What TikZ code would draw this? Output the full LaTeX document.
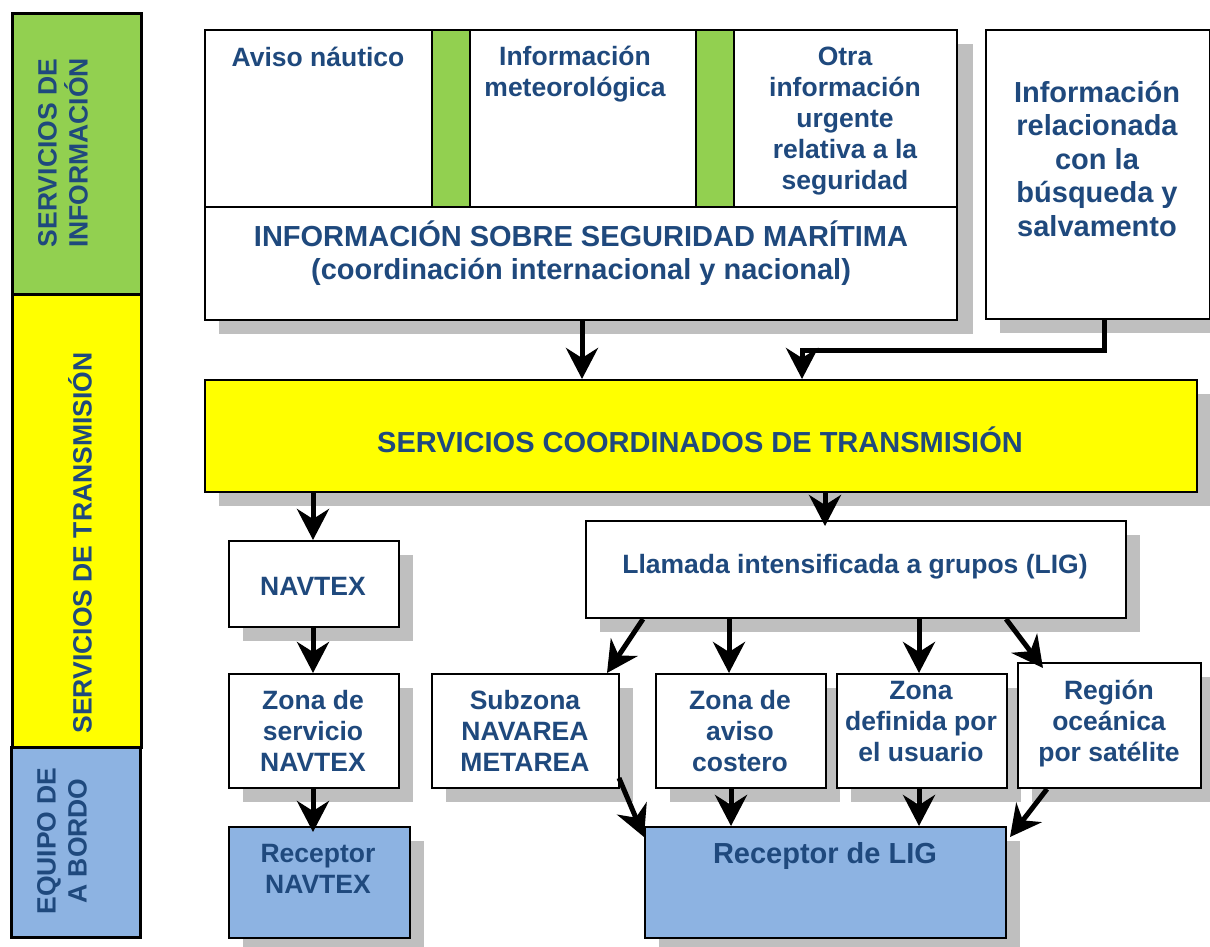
\documentclass[tikz,border=0pt]{standalone}
\usepackage{fontspec}
\setmainfont{Liberation Sans}
\usetikzlibrary{arrows.meta,calc}
\definecolor{tblue}{RGB}{31,73,125}
\definecolor{shgray}{RGB}{191,191,191}
\definecolor{gbar}{RGB}{146,208,80}
\definecolor{ybox}{RGB}{255,255,0}
\definecolor{bbox}{RGB}{141,179,226}
\newcommand{\fa}{\fontsize{26.5}{31}\selectfont\bfseries}
\newcommand{\fb}{\fontsize{29}{33.5}\selectfont\bfseries}
\tikzset{
  boxn/.style={draw=black, line width=2pt, fill=white, inner sep=0pt, anchor=north west},
  shad/.style={fill=shgray, draw=none, inner sep=0pt, anchor=north west},
  sidebox/.style={draw=black, line width=3pt, inner sep=0pt, anchor=north west},
  txa/.style={text=tblue, font=\fa, align=center, inner sep=0pt},
  txb/.style={text=tblue, font=\fb, align=center, inner sep=0pt},
  arr/.style={line width=5pt, -{Stealth[length=31pt,width=32pt,inset=10pt]}},
}
\begin{document}
\begin{tikzpicture}[x=1pt,y=-1pt]
\useasboundingbox (0,0) rectangle (1210,946);
% side columns
\node[sidebox, fill=gbar, minimum width=129pt, minimum height=281pt] (sinf) at (11,12) {};
\node[sidebox, fill=ybox, minimum width=129pt, minimum height=453pt] (stra) at (11,293) {};
\node[sidebox, fill=bbox, minimum width=129pt, minimum height=190pt] (sequ) at (10,746) {};
\node[txa, rotate=90] (tinf) at (63,153) {SERVICIOS DE\\INFORMACIÓN};
\node[txa, rotate=90] (ttra) at (80,543) {SERVICIOS DE TRANSMISIÓN};
\node[txa, rotate=90] (tequ) at (62,841) {EQUIPO DE\\A BORDO};
% shadows
\node[shad, minimum width=754pt, minimum height=290pt] (shtop) at (219,44) {};
\node[shad, minimum width=224pt, minimum height=289pt] (shsar) at (1000,44) {};
\node[shad, minimum width=992pt, minimum height=112pt] (shsct) at (219,394) {};
\node[shad, minimum width=170pt, minimum height=86pt] (shnav) at (243,555) {};
\node[shad, minimum width=540pt, minimum height=97pt] (shlig) at (600,535) {};
\node[shad, minimum width=170pt, minimum height=114pt] (shznav) at (243,688) {};
\node[shad, minimum width=187pt, minimum height=114pt] (shsub) at (446,688) {};
\node[shad, minimum width=170pt, minimum height=114pt] (shcost) at (670,688) {};
\node[shad, minimum width=170pt, minimum height=114pt] (shusr) at (851,688) {};
\node[shad, minimum width=183pt, minimum height=125pt] (shsat) at (1032,677) {};
\node[shad, minimum width=181pt, minimum height=111pt] (shrnav) at (243,841) {};
\node[shad, minimum width=361pt, minimum height=111pt] (shrlig) at (659,841) {};
% top composite box
\node[boxn, minimum width=227pt, minimum height=177pt] (cell1) at (204,29) {};
\node[boxn, fill=gbar, minimum width=38pt, minimum height=177pt] (bar1) at (431,29) {};
\node[boxn, minimum width=226pt, minimum height=177pt] (cell2) at (469,29) {};
\node[boxn, fill=gbar, minimum width=38pt, minimum height=177pt] (bar2) at (695,29) {};
\node[boxn, minimum width=223pt, minimum height=177pt] (cell3) at (733,29) {};
\node[boxn, minimum width=752pt, minimum height=113pt] (msi) at (204,206) {};
\node[boxn, minimum width=224pt, minimum height=289pt] (sar) at (985,29) {};
\node[boxn, fill=ybox, minimum width=992pt, minimum height=112pt] (sct) at (204,379) {};
\node[boxn, minimum width=170pt, minimum height=86pt] (nav) at (228,540) {};
\node[boxn, minimum width=540pt, minimum height=97pt] (lig) at (585,520) {};
\node[boxn, minimum width=170pt, minimum height=114pt] (znav) at (228,673) {};
\node[boxn, minimum width=187pt, minimum height=114pt] (sub) at (431,673) {};
\node[boxn, minimum width=170pt, minimum height=114pt] (cost) at (655,673) {};
\node[boxn, minimum width=170pt, minimum height=114pt] (usr) at (836,673) {};
\node[boxn, minimum width=183pt, minimum height=125pt] (sat) at (1017,662) {};
\node[boxn, fill=bbox, minimum width=181pt, minimum height=111pt] (rnav) at (228,826) {};
\node[boxn, fill=bbox, minimum width=361pt, minimum height=111pt] (rlig) at (644,826) {};
% texts
\node[txa] (t1) at (318,57) {Aviso náutico};
\node[txa] (t2) at (575,74) {Información\\meteorológica};
\node[txa] (t3) at (845,121) {Otra\\información\\urgente\\relativa a la\\seguridad};
\node[txb] (t4) at (581,253) {INFORMACIÓN SOBRE SEGURIDAD MARÍTIMA\\(coordinación internacional y nacional)};
\node[txb] (t5) at (1097,159) {Información\\relacionada\\con la\\búsqueda y\\salvamento};
\node[txb] (t6) at (700,440) {SERVICIOS COORDINADOS DE TRANSMISIÓN};
\node[txa] (t7) at (313,586) {NAVTEX};
\node[txa] (t8) at (855,567) {Llamada intensificada a grupos (LIG)};
\node[txa] (t9) at (313,731) {Zona de\\servicio\\NAVTEX};
\node[txa] (t10) at (525,731) {Subzona\\NAVAREA\\METAREA};
\node[txa] (t11) at (740,731) {Zona de\\aviso\\costero};
\node[txa] (t12) at (921,722) {Zona\\definida por\\el usuario};
\node[txa] (t13) at (1109,724) {Región\\oceánica\\por satélite};
\node[txa] (t14) at (318,869) {Receptor\\NAVTEX};
\node[txb] (t15) at (825,856) {Receptor de LIG};
% connector coordinates
\coordinate (xa) at (582,0);
\coordinate (k1) at (1104,350);
\coordinate (k2) at (802,350);
\coordinate (xn) at (313,0);
\coordinate (xl) at (825,0);
\coordinate (xc) at (729,0);
\coordinate (xu) at (919,0);
\coordinate (xc2) at (731,0);
% connectors
\draw[arr] (msi.south -| xa) -- (sct.north -| xa);
\draw[arr] (sar.south -| k1) -- (k1) -- (k2) -- (sct.north -| k2);
\draw[arr] (sct.south -| xn) -- (nav.north -| xn);
\draw[arr] (sct.south -| xl) -- ([yshift=-6pt]lig.north -| xl);
\draw[arr] (nav.south -| xn) -- (znav.north -| xn);
\draw[arr] (znav.south -| xn) -- ([yshift=-6pt]rnav.north -| xn);
\draw[arr] ([xshift=58pt]lig.south west) -- ([xshift=176pt]sub.north west);
\draw[arr] (lig.south -| xc) -- (cost.north -| xc);
\draw[arr] (lig.south -| xu) -- (usr.north -| xu);
\draw[arr] ([xshift=421pt]lig.south west) -- ([xshift=26pt,yshift=-6pt]sat.north west);
\draw[arr] ([xshift=-1pt,yshift=11pt]sub.south east) -- ([yshift=-11pt]rlig.north west);
\draw[arr] (cost.south -| xc2) -- (rlig.north -| xc2);
\draw[arr] (usr.south -| xu) -- (rlig.north -| xu);
\draw[arr] ([xshift=30pt]sat.south west) -- ([xshift=3pt,yshift=-11pt]rlig.north east);
\end{tikzpicture}
\end{document}
